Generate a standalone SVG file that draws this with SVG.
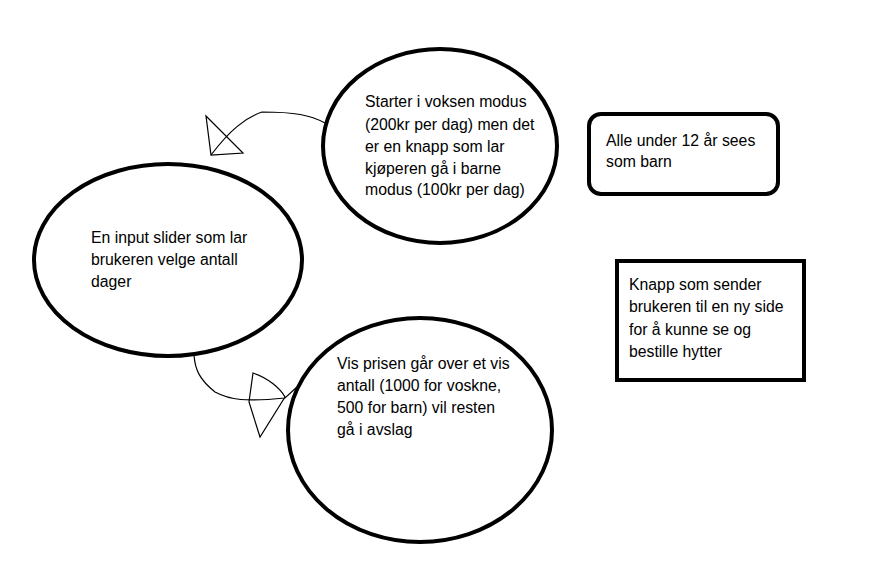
<svg xmlns="http://www.w3.org/2000/svg" width="893" height="571" viewBox="0 0 893 571">
<style>
.node{fill:none;stroke:#000;stroke-width:4}
.t{font-family:"Liberation Sans","Noto Sans",sans-serif;font-size:15.8px;fill:#000}
.c{fill:none;stroke:#000;stroke-width:1.2}
</style>
<rect width="893" height="571" fill="#fff"/>
<g id="connectors">
<path class="c" d="M325,123 C310,115 295,112 262,112 C245,118 230,130 211,155"/>
<path class="c" d="M206,116 L211,155 L243,153 Z"/>
<path class="c" d="M194,355 C195,370 200,380 215,392 C230,400 245,402 285,398 L297,387"/>
<path class="c" d="M253,373 C268,378 280,388 285,397 L260,437 L249,402 Z"/>
</g>
<g id="node-top">
<ellipse class="node" cx="440" cy="146" rx="117" ry="97"/>
<text class="t" x="365" y="107">Starter i voksen modus</text>
<text class="t" x="365" y="130">(200kr per dag) men det</text>
<text class="t" x="365" y="152">er en knapp som lar</text>
<text class="t" x="365" y="174">kjøperen gå i barne</text>
<text class="t" x="365" y="195">modus (100kr per dag)</text>
</g>
<g id="node-left">
<ellipse class="node" cx="168" cy="260" rx="134" ry="96"/>
<text class="t" x="91" y="243">En input slider som lar</text>
<text class="t" x="91" y="265">brukeren velge antall</text>
<text class="t" x="91" y="287">dager</text>
</g>
<g id="node-bottom">
<ellipse class="node" cx="420" cy="430" rx="132" ry="112"/>
<text class="t" x="337" y="369">Vis prisen går over et vis</text>
<text class="t" x="337" y="391">antall (1000 for voskne,</text>
<text class="t" x="337" y="413">500 for barn) vil resten</text>
<text class="t" x="337" y="435">gå i avslag</text>
</g>
<g id="node-note">
<rect class="node" x="589" y="114" width="189" height="80" rx="12"/>
<text class="t" x="606" y="146">Alle under 12 år sees</text>
<text class="t" x="606" y="167">som barn</text>
</g>
<g id="node-button">
<rect class="node" x="617" y="261" width="187" height="119"/>
<text class="t" x="629" y="290">Knapp som sender</text>
<text class="t" x="629" y="312">brukeren til en ny side</text>
<text class="t" x="629" y="335">for å kunne se og</text>
<text class="t" x="629" y="357">bestille hytter</text>
</g>
</svg>
